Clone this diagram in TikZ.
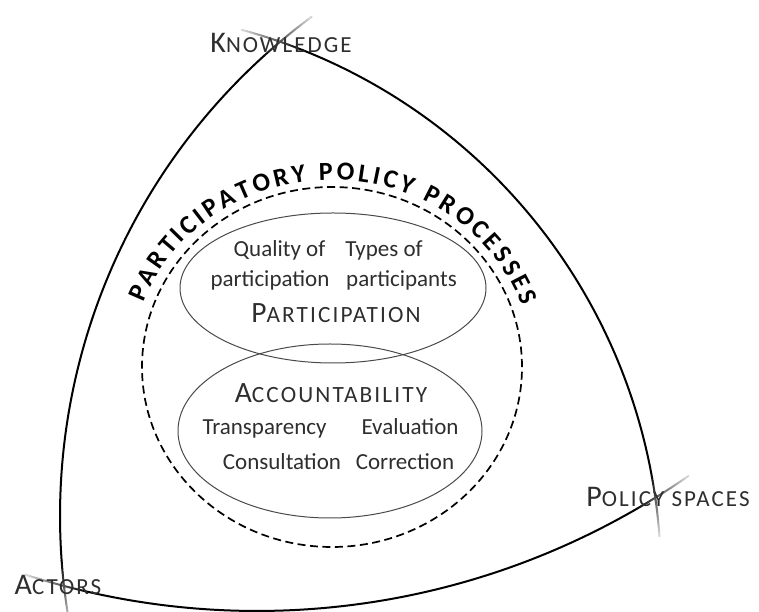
\documentclass[tikz,border=0pt]{standalone}
\usepackage{fontspec}
\setmainfont{Carlito}
\newfontfamily\spacedfont[LetterSpace=9]{Carlito}
\usetikzlibrary{shapes.geometric,decorations.text}

\definecolor{inktext}{HTML}{2E2E2E}
\definecolor{inkline}{HTML}{4A4A4A}

% fake small caps: big first letter, smaller spaced rest
\newcommand{\capsword}[4]{{\fontsize{#1}{#1}\selectfont #3}{\spacedfont\fontsize{#2}{#2}\selectfont #4}}

% side of the triangle fading out past a corner
\newcommand{\fadearc}[4]{%
  \foreach \k in {0,...,15}{%
    \pgfmathsetmacro{\angA}{#3+(#4-#3)*\k/16}%
    \pgfmathsetmacro{\angB}{#3+(#4-#3)*(\k+1)/16}%
    \pgfmathtruncatemacro{\tone}{100-5.5*\k}%
    \draw[side, draw=black!\tone] (#1) ++(\angA:#2) arc[start angle=\angA, end angle=\angB, radius=#2];
  }}

\tikzset{
  side/.style={line width=2pt, line cap=round},
  ring/.style={draw=inkline, line width=1pt, ellipse, inner sep=0pt},
  smalltext/.style={font=\fontsize{23}{23}\selectfont, text=inktext, inner sep=0pt, anchor=base},
  bigtext/.style={text=inktext, inner sep=0pt, anchor=base},
  corner/.style={text=inktext, inner sep=0pt, anchor=base}
}

\begin{document}
\begin{tikzpicture}[x=1pt,y=1pt]
  \useasboundingbox (0,0) rectangle (759,612);

  % Centres of the three sides

  \coordinate (cl) at (681,96);
  \coordinate (cr) at (93,34);
  \coordinate (cb) at (257,758);

  % Sides

  \draw[side] (cl) ++(132.5:621) arc[start angle=132.5, end angle=184.1, radius=621];
  \fadearc{cl}{621}{132.5}{126.5}
  \fadearc{cl}{621}{184.1}{190.1}

  \draw[side] (cr) ++(68.3:568) arc[start angle=68.3, end angle=10.7, radius=568];
  \fadearc{cr}{568}{68.3}{74.8}
  \fadearc{cr}{568}{10.7}{4.2}

  \draw[side] (cb) ++(257.1:757) arc[start angle=257.1, end angle=299.85, radius=757];
  \fadearc{cb}{757}{257.1}{252.2}
  \fadearc{cb}{757}{299.85}{304.75}

  % Corner labels

  \node[corner] (knowledge) at (281,559) {\capsword{30}{23}{K}{NOWLEDGE}};
  \node[corner] (actors) at (58,17) {\capsword{30}{23}{A}{CTORS}};
  \node[corner] (spaces) at (668,105) {\capsword{30}{23}{P}{OLICY SPACES}};

  % Processes

  \node[draw, ellipse, line width=1.7pt, dash pattern=on 8pt off 4.5pt,
        minimum width=380, minimum height=360, inner sep=0pt] (processes) at (332,245) {};
  \path[decorate, decoration={text along path, text align=fit to path,
        text={|\bfseries\fontsize{26}{26}\selectfont|PARTICIPATORY POLICY PROCESSES}}]
    (332,245) ++(160:201 and 187) arc[start angle=160, end angle=19, x radius=201, y radius=187];

  \node[ring, minimum width=306, minimum height=150] (partic) at (333,324) {};
  \node[ring, minimum width=304, minimum height=174] (account) at (330,181) {};

  \node[smalltext] (quality) at (279.5,355) {Quality of};
  \node[smalltext] (types) at (384,355) {Types of};
  \node[smalltext] (particip) at (270,325) {participation};
  \node[smalltext] (partics) at (401.5,325) {participants};
  \node[bigtext] (participation) at (336,289) {\capsword{29.5}{23.3}{P}{ARTICIPATION}};

  \node[bigtext] (accountability) at (331,209) {\capsword{29.5}{23.3}{A}{CCOUNTABILITY}};
  \node[smalltext] (transp) at (264.5,177) {Transparency};
  \node[smalltext] (eval) at (410,177) {Evaluation};
  \node[smalltext] (consult) at (282,142) {Consultation};
  \node[smalltext] (correct) at (405,142) {Correction};

\end{tikzpicture}
\end{document}
